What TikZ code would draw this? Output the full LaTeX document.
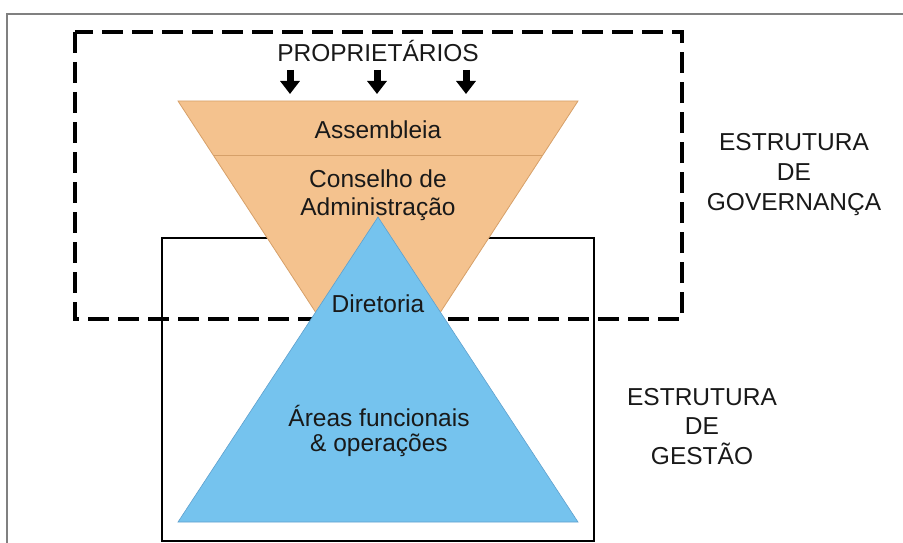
\documentclass[tikz,border=0pt]{standalone}
\usepackage{fontspec}
\setmainfont{Liberation Sans}
\usetikzlibrary{arrows.meta}
\definecolor{peach}{RGB}{244,194,142}
\definecolor{peachline}{RGB}{214,160,105}
\definecolor{skyblue}{RGB}{117,195,238}
\definecolor{skyline}{RGB}{95,160,205}
\definecolor{framegray}{RGB}{128,128,128}
\definecolor{ink}{RGB}{25,25,25}
\begin{document}
\begin{tikzpicture}[x=1pt,y=-1pt,
  txt/.style={inner sep=0pt,text=ink,font=\fontsize{24.5}{30}\selectfont,align=center},
  owner/.style={line width=7pt,-{Triangle[length=13pt 0 0,width=19pt 0 0]}},
  govbox/.style={draw,line width=4.5pt,dash pattern=on 21pt off 9pt},
  mgmtbox/.style={draw,line width=2pt}]
\useasboundingbox (0,0) rectangle (903,543);
\draw[framegray,line width=2pt] (7,543) -- (7,14) -- (903,14);
\draw[govbox] (75,32) rectangle (682,319);
\draw[mgmtbox] (162,238) rectangle (594,541);
% the two triangles
\filldraw[fill=peach,draw=peachline,line width=0.8pt] (178,101) -- (578,101) -- (378,408) -- cycle;
\draw[peachline] (213,155) -- (543,155);
\filldraw[fill=skyblue,draw=skyline,line width=0.6pt] (378,217) -- (578,522) -- (178,522) -- cycle;
% labels
\node[txt,anchor=base] (owners) at (378,62) {PROPRIETÁRIOS};
\node[txt,anchor=base] (assembly) at (378,138) {Assembleia};
\node[txt,anchor=north,font=\fontsize{24.5}{28}\selectfont] (board) at (378,170) {Conselho de\\Administração};
\node[txt,anchor=base] (directors) at (378,312) {Diretoria};
\node[txt,anchor=north,font=\fontsize{24.5}{25}\selectfont] (areas) at (379,405) {Áreas funcionais\\\& operações};
\node[txt,anchor=north] (govlabel) at (794,133) {ESTRUTURA\\DE\\GOVERNANÇA};
\node[txt,anchor=north,font=\fontsize{24.5}{29.5}\selectfont] (mgmtlabel) at (702,388) {ESTRUTURA\\DE\\GESTÃO};
\foreach \x [count=\i] in {290,377,466} {
  \coordinate (from\i) at (\x,70);
  \coordinate (to\i) at (\x,94);
  \draw[owner] (from\i) -- (to\i);
}
\end{tikzpicture}
\end{document}
